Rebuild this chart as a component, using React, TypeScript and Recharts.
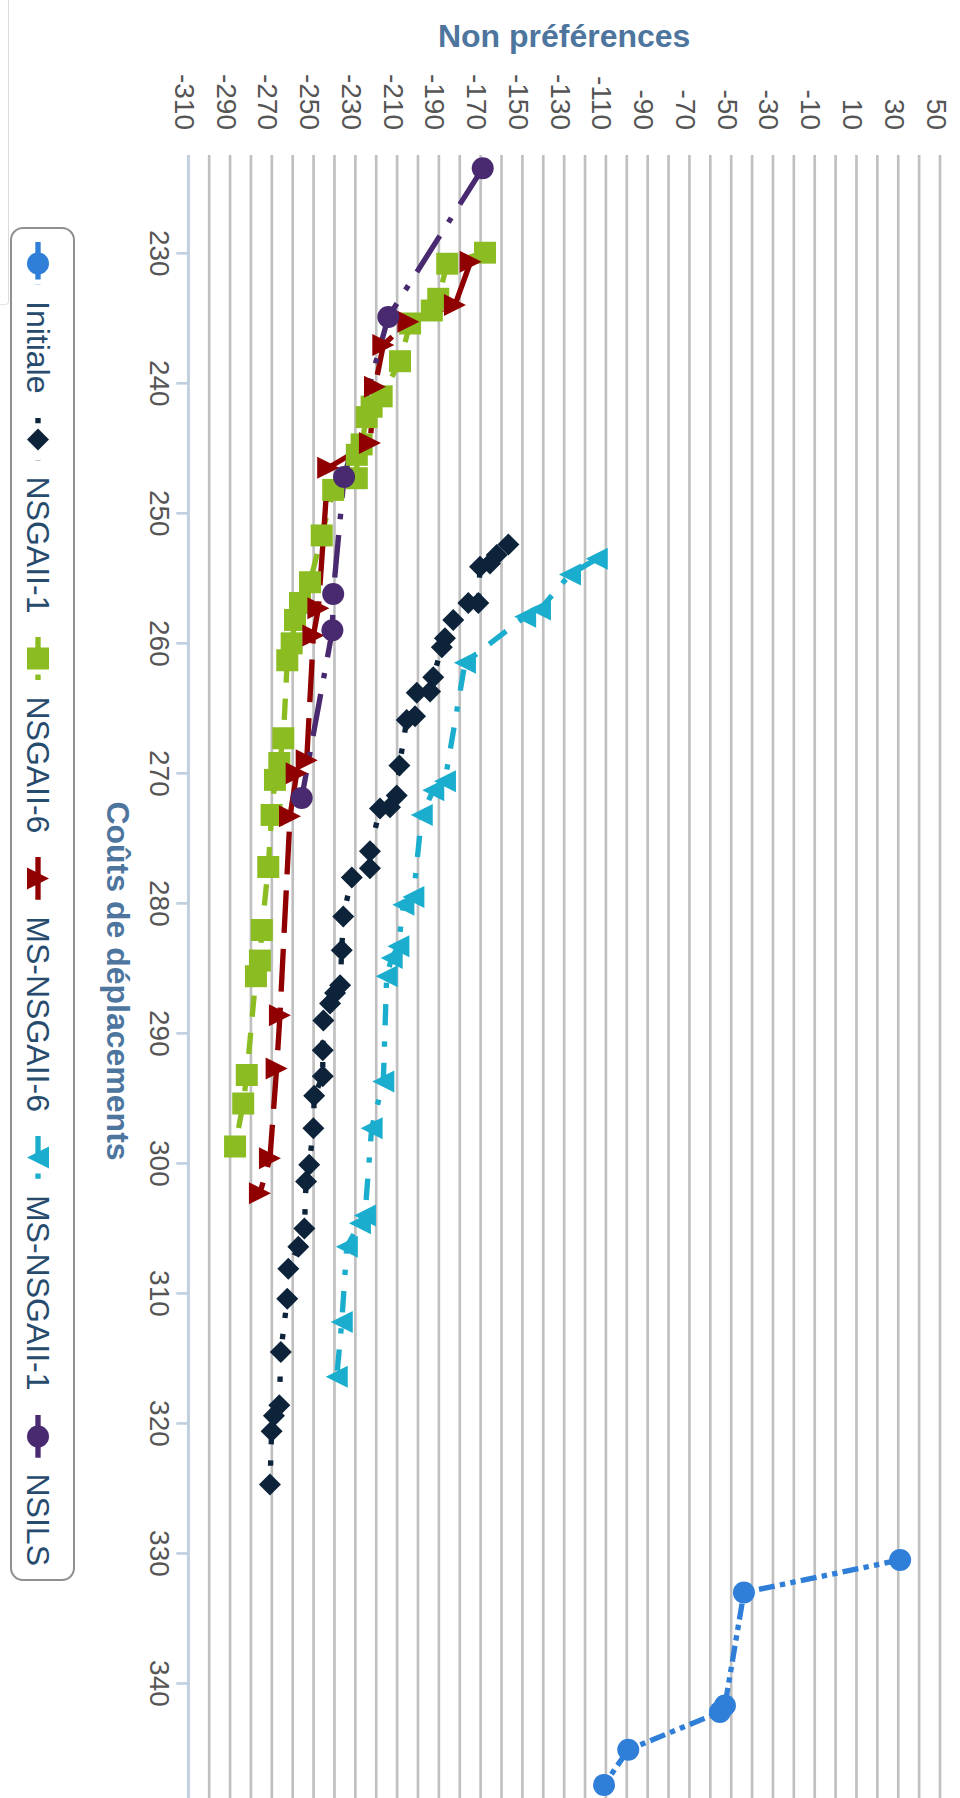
import React from 'react';
import { ComposedChart, Line, XAxis, YAxis, CartesianGrid, Legend, Label } from 'recharts';

// ---------- data ----------
const initialeCost = [330.5, 333.0, 341.7, 342.2, 345.1, 347.8];
const initialeNonPref = [30.9, -43.9, -53.0, -55.4, -99.3, -110.9];

const nsga1Cost = [252.4, 253.2, 253.85, 254.1, 256.9, 256.9, 258.2, 259.6, 260.3, 262.6, 263.7, 263.8, 265.6, 265.9, 269.4, 271.7, 272.6, 272.7, 276.0, 277.3, 278.0, 281.0, 283.6, 286.3, 286.9, 287.7, 289.0, 291.3, 293.3, 294.8, 297.3, 300.1, 301.4, 305.0, 306.4, 308.1, 310.4, 314.5, 318.6, 319.4, 320.6, 324.7];
const nsga1NonPref = [-156.7, -162.3, -165.5, -170.3, -171.1, -175.9, -183.1, -187.1, -188.6, -192.7, -194.2, -200.6, -201.4, -205.4, -208.9, -210.2, -213.4, -218.2, -223.0, -223.0, -231.7, -235.8, -236.5, -237.3, -239.7, -242.1, -245.3, -245.6, -245.6, -249.7, -250.1, -252.1, -253.6, -254.4, -257.3, -262.1, -262.6, -265.7, -266.4, -269.0, -270.1, -270.9];

const nsga6Cost = [229.95, 230.8, 233.5, 234.4, 235.4, 238.3, 241.0, 241.8, 242.6, 244.7, 245.5, 247.3, 248.2, 251.7, 255.3, 256.9, 258.2, 260.0, 261.3, 267.3, 269.2, 270.5, 273.2, 277.2, 282.05, 284.4, 285.6, 293.2, 295.4, 298.7];
const nsga6NonPref = [-167.9, -186.0, -190.3, -193.4, -203.8, -208.6, -217.4, -222.2, -224.6, -227.0, -229.3, -229.3, -240.6, -246.1, -251.7, -256.5, -258.9, -260.5, -262.6, -264.5, -266.4, -268.5, -270.1, -271.7, -274.8, -275.7, -277.6, -282.0, -283.7, -287.6];

const msNsga6Cost = [230.65, 233.98, 235.26, 237.05, 240.26, 244.6, 246.5, 257.3, 259.4, 269.0, 270.0, 273.3, 288.6, 292.7, 299.6, 302.3];
const msNsga6NonPref = [-174.8, -182.3, -204.6, -216.6, -220.6, -223.0, -243.0, -247.7, -250.1, -253.3, -258.1, -261.3, -266.1, -267.7, -270.9, -275.7];

const msNsga1Cost = [253.5, 254.7, 257.4, 257.95, 261.5, 270.6, 271.3, 273.2, 279.5, 280.1, 283.3, 284.2, 285.6, 293.7, 297.3, 304.0, 304.6, 306.4, 312.2, 316.4];
const msNsga1NonPref = [-114.4, -127.2, -141.6, -148.7, -177.5, -187.1, -192.7, -198.2, -202.2, -207.0, -209.4, -212.6, -215.0, -216.6, -222.2, -225.4, -227.8, -234.1, -236.5, -238.9];

const nsilsCost = [223.46, 234.9, 247.2, 256.2, 259.0, 271.9];
const nsilsNonPref = [-169.0, -214.2, -235.4, -240.6, -241.0, -255.7];

const xTicks = [230, 240, 250, 260, 270, 280, 290, 300, 310, 320, 330, 340];
const yTicks = [-310, -300, -290, -280, -270, -260, -250, -240, -230, -220, -210, -200, -190, -180, -170, -160, -150, -140, -130, -120, -110, -100, -90, -80, -70, -60, -50, -40, -30, -20, -10, 0, 10, 20, 30, 40, 50];
const yLabelTicks = [-310, -290, -270, -250, -230, -210, -190, -170, -150, -130, -110, -90, -70, -50, -30, -10, 10, 30, 50];

const xTitle = 'Coûts de déplacements';
const yTitle = 'Non préférences';

// ---------- styles ----------
const K = 2.67;
const LW = 2 * K;
const R = 11;
const FONT = "'Liberation Sans', Arial, Helvetica, sans-serif";

const dash = (arr: number[]) => arr.map((v) => (v * LW).toFixed(2)).join(',');

type Shape = 'circle' | 'diamond' | 'square' | 'triangle' | 'triangle-down';

const zip = (cs: number[], vs: number[]) => cs.map((c, i) => ({ x: c, y: vs[i] }));

const series = [
  { name: 'Initiale', color: '#2f7ed8', shape: 'circle' as Shape, dash: dash([3, 1, 1, 1, 1, 1]), data: zip(initialeCost, initialeNonPref) },
  { name: 'NSGAII-1', color: '#0d233a', shape: 'diamond' as Shape, dash: dash([1, 3]), data: zip(nsga1Cost, nsga1NonPref) },
  { name: 'NSGAII-6', color: '#8bbc21', shape: 'square' as Shape, dash: dash([4, 3]), data: zip(nsga6Cost, nsga6NonPref) },
  { name: 'MS-NSGAII-6', color: '#910000', shape: 'triangle' as Shape, dash: dash([8, 3]), data: zip(msNsga6Cost, msNsga6NonPref) },
  { name: 'MS-NSGAII-1', color: '#1aadce', shape: 'triangle-down' as Shape, dash: dash([4, 3, 1, 3]), data: zip(msNsga1Cost, msNsga1NonPref) },
  { name: 'NSILS', color: '#492970', shape: 'circle' as Shape, dash: dash([8, 3, 1, 3]), data: zip(nsilsCost, nsilsNonPref) },
];

function Marker({ shape, cx, cy, color }: { shape: Shape; cx: number; cy: number; color: string }) {
  const r = R;
  if (shape === 'circle') return <circle cx={cx} cy={cy} r={r} fill={color} />;
  let d = '';
  if (shape === 'diamond') d = `M${cx},${cy - r}L${cx + r},${cy}L${cx},${cy + r}L${cx - r},${cy}Z`;
  if (shape === 'square') d = `M${cx - r},${cy - r}L${cx + r},${cy - r}L${cx + r},${cy + r}L${cx - r},${cy + r}Z`;
  if (shape === 'triangle') d = `M${cx},${cy - r}L${cx + r},${cy + r}L${cx - r},${cy + r}Z`;
  if (shape === 'triangle-down') d = `M${cx - r},${cy - r}L${cx + r},${cy - r}L${cx},${cy + r}Z`;
  return <path d={d} fill={color} />;
}

const XTick = (props: any) => {
  const { x, y, payload } = props;
  return (
    <text x={x} y={y + 26} textAnchor="middle" fill="#555" fontSize={28} fontFamily={FONT}>
      {payload.value}
    </text>
  );
};

const YTick = (props: any) => {
  const { x, y, payload } = props;
  if (!yLabelTicks.includes(payload.value)) return <g />;
  return (
    <text x={x} y={y + 13.5} textAnchor="end" fill="#555" fontSize={28} fontFamily={FONT}>
      {payload.value}
    </text>
  );
};

const renderLegend = () => (
  <div
    style={{
      boxSizing: 'border-box',
      width: 1354,
      height: 65,
      border: `${K}px solid #909090`,
      borderRadius: 13,
      display: 'flex',
      alignItems: 'center',
      justifyContent: 'center',
      gap: 24,
      paddingTop: 8,
      fontFamily: FONT,
      fontSize: 32,
      color: '#274b6d',
    }}
  >
    {series.map((s) => (
      <div key={s.name} style={{ display: 'flex', alignItems: 'center' }}>
        <svg width={43} height={24} style={{ display: 'block' }}>
          <line x1={0} y1={12} x2={43} y2={12} stroke={s.color} strokeWidth={LW} strokeDasharray={s.dash} />
          <Marker shape={s.shape} cx={21.5} cy={12} color={s.color} />
        </svg>
        <span style={{ marginLeft: 16, lineHeight: 1, whiteSpace: 'nowrap' }}>{s.name}</span>
      </div>
    ))}
  </div>
);

export default function App() {
  return (
    <div style={{ position: 'absolute', left: 0, top: 0, width: 960, height: 1798, overflow: 'hidden', background: '#fff' }}>
      <div
        style={{
          position: 'absolute',
          left: 0,
          top: 0,
          width: 1830,
          height: 960,
          transformOrigin: '0 0',
          transform: 'translateX(960px) rotate(90deg)',
        }}
      >
        <ComposedChart width={1830} height={960} margin={{ top: 20, right: 23, bottom: 0, left: 0 }}>
          <CartesianGrid vertical={false} stroke="#C0C0C0" strokeWidth={K} />
          <XAxis
            type="number"
            dataKey="x"
            domain={[222.44, 349.5]}
            allowDataOverflow
            ticks={xTicks}
            interval={0}
            height={188.3}
            tickSize={12}
            tickMargin={0}
            axisLine={{ stroke: '#C0D0E0', strokeWidth: K }}
            tickLine={{ stroke: '#C0D0E0', strokeWidth: K }}
            tick={<XTick />}
          >
            <Label
              content={(props: any) => {
                const vb = props.viewBox || {};
                const cx = vb.x + vb.width / 2;
                return (
                  <text x={cx} y={vb.y + 81.3} textAnchor="middle" fill="#4d759e" fontSize={32} fontWeight="bold" fontFamily={FONT}>
                    {xTitle}
                  </text>
                );
              }}
            />
          </XAxis>
          <YAxis
            type="number"
            dataKey="y"
            domain={[-310, 50]}
            allowDataOverflow
            ticks={yTicks}
            interval={0}
            width={155}
            tickSize={0}
            tickMargin={25}
            axisLine={false}
            tickLine={false}
            tick={<YTick />}
          >
            <Label
              content={(props: any) => {
                const vb = props.viewBox || {};
                const x = vb.x + 46.7;
                const cy = vb.y + vb.height / 2;
                return (
                  <text x={x} y={cy} transform={`rotate(-90 ${x} ${cy})`} textAnchor="middle" fill="#4d759e" fontSize={32} fontWeight="bold" fontFamily={FONT}>
                    {yTitle}
                  </text>
                );
              }}
            />
          </YAxis>
          <Legend
            layout="horizontal"
            verticalAlign="middle"
            align="center"
            content={renderLegend}
            wrapperStyle={{ left: 227, top: 885, width: 1354, height: 65 }}
          />
          {series.map((s) => (
            <Line
              key={s.name}
              name={s.name}
              data={s.data}
              dataKey="y"
              type="linear"
              stroke={s.color}
              strokeWidth={LW}
              strokeDasharray={s.dash}
              isAnimationActive={false}
              activeDot={false}
              dot={(p: any) => <Marker key={`${s.name}-${p.index}`} shape={s.shape} cx={p.cx} cy={p.cy} color={s.color} />}
            />
          ))}
        </ComposedChart>
      </div>
      <div
        style={{
          position: 'absolute',
          left: 0,
          top: 0,
          width: 8,
          height: 304,
          borderRight: '1.5px solid #dcdcdc',
          borderBottom: '1.5px solid #e4e4e4',
          borderBottomRightRadius: 4,
        }}
      />
    </div>
  );
}
